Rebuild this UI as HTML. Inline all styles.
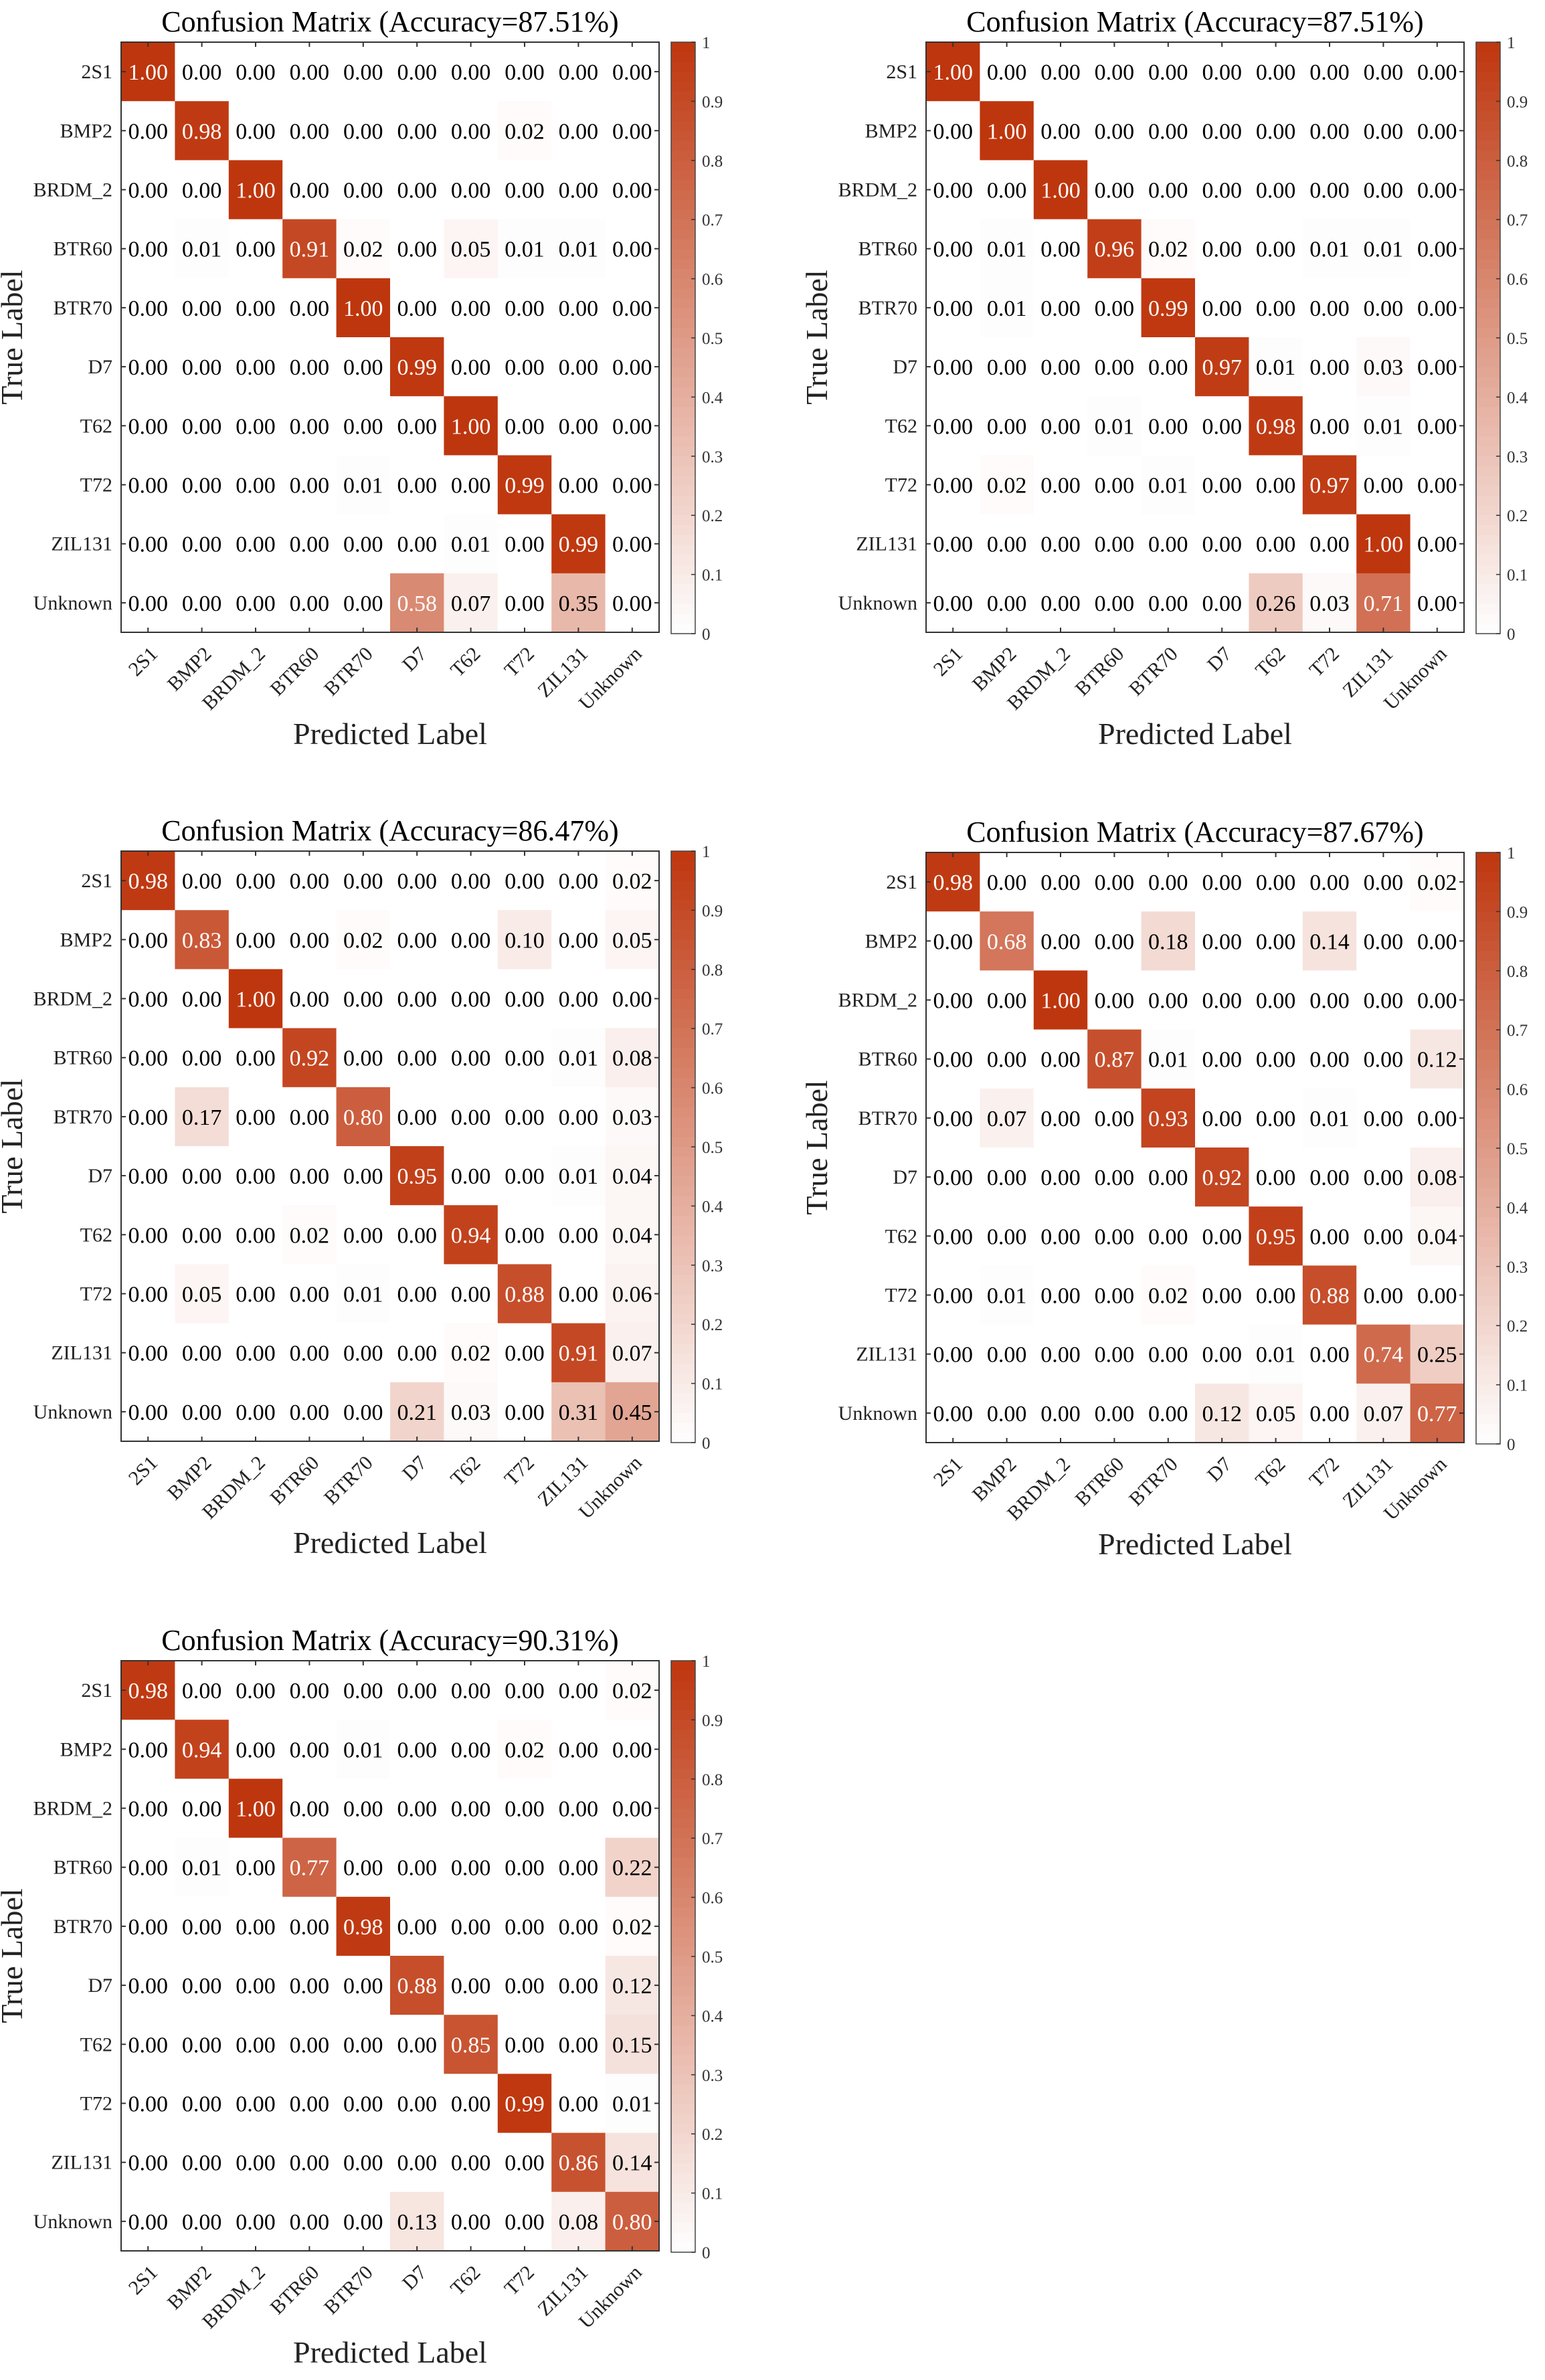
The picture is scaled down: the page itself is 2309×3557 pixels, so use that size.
<!DOCTYPE html>
<html><head><meta charset="utf-8"><style>
html,body{margin:0;padding:0;background:#fff;}
svg{display:block;font-family:"Liberation Serif",serif;}
</style></head><body>
<svg id="fig" width="2309" height="3557" viewBox="0 0 2309 3557" xmlns="http://www.w3.org/2000/svg"></svg>
<script>
const labels = ["2S1","BMP2","BRDM_2","BTR60","BTR70","D7","T62","T72","ZIL131","Unknown"];
const accuracies = ["87.51","87.51","86.47","87.67","90.31"];
const cbTicks = [0,0.1,0.2,0.3,0.4,0.5,0.6,0.7,0.8,0.9,1];
const cbTickLabels = ["0","0.1","0.2","0.3","0.4","0.5","0.6","0.7","0.8","0.9","1"];
const matrix1 = [
[1,0,0,0,0,0,0,0,0,0],
[0,.98,0,0,0,0,0,.02,0,0],
[0,0,1,0,0,0,0,0,0,0],
[0,.01,0,.91,.02,0,.05,.01,.01,0],
[0,0,0,0,1,0,0,0,0,0],
[0,0,0,0,0,.99,0,0,0,0],
[0,0,0,0,0,0,1,0,0,0],
[0,0,0,0,.01,0,0,.99,0,0],
[0,0,0,0,0,0,.01,0,.99,0],
[0,0,0,0,0,.58,.07,0,.35,0]];
const matrix2 = [
[1,0,0,0,0,0,0,0,0,0],
[0,1,0,0,0,0,0,0,0,0],
[0,0,1,0,0,0,0,0,0,0],
[0,.01,0,.96,.02,0,0,.01,.01,0],
[0,.01,0,0,.99,0,0,0,0,0],
[0,0,0,0,0,.97,.01,0,.03,0],
[0,0,0,.01,0,0,.98,0,.01,0],
[0,.02,0,0,.01,0,0,.97,0,0],
[0,0,0,0,0,0,0,0,1,0],
[0,0,0,0,0,0,.26,.03,.71,0]];
const matrix3 = [
[.98,0,0,0,0,0,0,0,0,.02],
[0,.83,0,0,.02,0,0,.10,0,.05],
[0,0,1,0,0,0,0,0,0,0],
[0,0,0,.92,0,0,0,0,.01,.08],
[0,.17,0,0,.80,0,0,0,0,.03],
[0,0,0,0,0,.95,0,0,.01,.04],
[0,0,0,.02,0,0,.94,0,0,.04],
[0,.05,0,0,.01,0,0,.88,0,.06],
[0,0,0,0,0,0,.02,0,.91,.07],
[0,0,0,0,0,.21,.03,0,.31,.45]];
const matrix4 = [
[.98,0,0,0,0,0,0,0,0,.02],
[0,.68,0,0,.18,0,0,.14,0,0],
[0,0,1,0,0,0,0,0,0,0],
[0,0,0,.87,.01,0,0,0,0,.12],
[0,.07,0,0,.93,0,0,.01,0,0],
[0,0,0,0,0,.92,0,0,0,.08],
[0,0,0,0,0,0,.95,0,0,.04],
[0,.01,0,0,.02,0,0,.88,0,0],
[0,0,0,0,0,0,.01,0,.74,.25],
[0,0,0,0,0,.12,.05,0,.07,.77]];
const matrix5 = [
[.98,0,0,0,0,0,0,0,0,.02],
[0,.94,0,0,.01,0,0,.02,0,0],
[0,0,1,0,0,0,0,0,0,0],
[0,.01,0,.77,0,0,0,0,0,.22],
[0,0,0,0,.98,0,0,0,0,.02],
[0,0,0,0,0,.88,0,0,0,.12],
[0,0,0,0,0,0,.85,0,0,.15],
[0,0,0,0,0,0,0,.99,0,.01],
[0,0,0,0,0,0,0,0,.86,.14],
[0,0,0,0,0,.13,0,0,.08,.80]];
const matrices = [matrix1,matrix2,matrix3,matrix4,matrix5];

const NS="http://www.w3.org/2000/svg";
const svg=document.getElementById('fig');
function mk(tag,attrs,parent){const e=document.createElementNS(NS,tag);for(const k in attrs)e.setAttribute(k,attrs[k]);(parent||svg).appendChild(e);return e;}
function color(v){const c0=[255,255,255],c1=[190,54,14];return 'rgb('+c0.map((a,i)=>Math.round(a+(c1[i]-a)*v)).join(',')+')';}
const PW=804, PH=882;
const origins=[[181,63],[1384,63],[181,1272],[1384,1274],[181,2482]];
matrices.forEach((M,p)=>{
  const [ox,oy]=origins[p];
  const n=labels.length, cw=PW/n, ch=PH/n;
  const xs=i=>ox+i*cw, ys=j=>oy+j*ch;
  const g=mk('g',{});
  
  
  const t=mk('text',{x:ox+PW/2,y:oy-16,'text-anchor':'middle','font-size':44,fill:'#000'},g);
  t.textContent='Confusion Matrix (Accuracy='+accuracies[p]+'%)';
  
  
  M.forEach((row,r)=>row.forEach((v,c)=>{
    const rc=mk('rect',{x:xs(c),y:ys(r),width:cw+0.5,height:ch+0.5,fill:color(v)},g);
    
    
    const tx=mk('text',{x:xs(c)+cw/2,y:ys(r)+ch/2+12,'text-anchor':'middle','font-size':34,fill:v>0.5?'#fff':'#000'},g);
    tx.textContent=v.toFixed(2);
    
    
  }));
  const fr=mk('rect',{x:ox,y:oy,width:PW,height:PH,fill:'none',stroke:'#333','stroke-width':2},g);
  
  
  labels.forEach((l,i)=>{
    const cx=xs(i)+cw/2, cy=ys(i)+ch/2;
    mk('line',{x1:cx,y1:oy,x2:cx,y2:oy+7,stroke:'#333','stroke-width':2},g);
    mk('line',{x1:cx,y1:oy+PH,x2:cx,y2:oy+PH-7,stroke:'#333','stroke-width':2},g);
    mk('line',{x1:ox,y1:cy,x2:ox+7,y2:cy,stroke:'#333','stroke-width':2},g);
    mk('line',{x1:ox+PW,y1:cy,x2:ox+PW-7,y2:cy,stroke:'#333','stroke-width':2},g);
    const yl=mk('text',{x:ox-13,y:cy+10,'text-anchor':'end','font-size':30,fill:'#222'},g);
    yl.textContent=l;
    
    
    const ex=cx+16, ey=oy+PH+34;
    const xl=mk('text',{x:ex,y:ey,'text-anchor':'end','font-size':30,fill:'#222',transform:'rotate(-45 '+ex+' '+ey+')'},g);
    xl.textContent=l;
    
    
  });
  const xt=mk('text',{x:ox+PW/2,y:oy+PH+167,'text-anchor':'middle','font-size':46,fill:'#222'},g);
  xt.textContent='Predicted Label';
  
  
  const yx=ox-148, yy=oy+PH/2;
  const yt=mk('text',{x:yx,y:yy,'text-anchor':'middle','font-size':46,fill:'#222',transform:'rotate(-90 '+yx+' '+yy+')'},g);
  yt.textContent='True Label';
  
  
  const bx=ox+PW+18, bw=36, by=oy, bh=PH+2;
  const steps=60;
  for(let k=0;k<steps;k++){
    const v=1-(k+0.5)/steps;
    mk('rect',{x:bx,y:by+k*bh/steps,width:bw,height:bh/steps+0.6,fill:color(v)},g);
  }
  const cb=mk('rect',{x:bx,y:by,width:bw,height:bh,fill:'none',stroke:'#444','stroke-width':1.5},g);
  
  
  const cy=v=>by+bh*(1-v);
  cbTicks.forEach((v,i)=>{
    mk('line',{x1:bx+bw-6,y1:cy(v),x2:bx+bw,y2:cy(v),stroke:'#333','stroke-width':1.5},g);
    const ct=mk('text',{x:bx+bw+10,y:cy(v)+9,'font-size':25,fill:'#333'},g);
    ct.textContent=cbTickLabels[i];
    
    
  });
});
</script>
</body></html>
